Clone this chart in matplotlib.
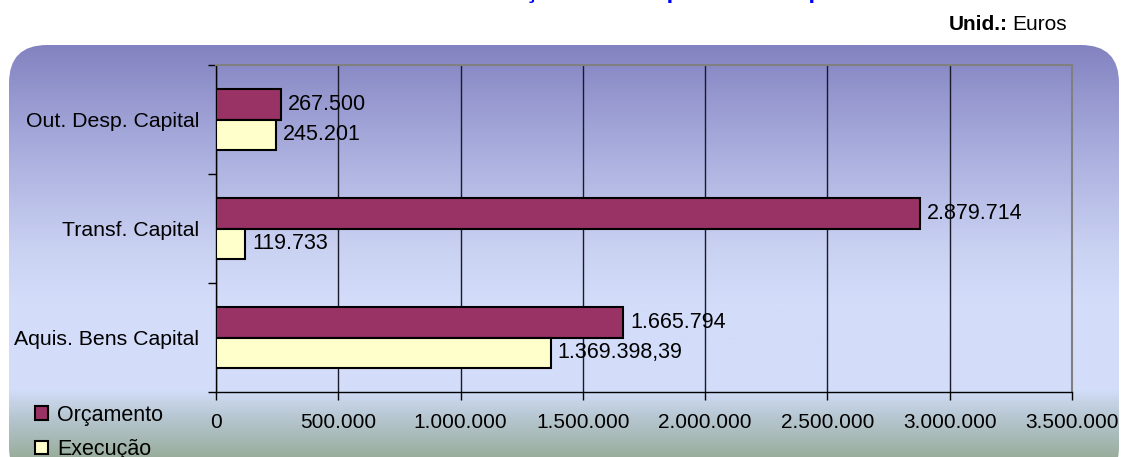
import matplotlib
matplotlib.use('Agg')
import matplotlib.pyplot as plt
import numpy as np
from matplotlib.colors import LinearSegmentedColormap
from matplotlib.patches import FancyBboxPatch

plt.rcParams['font.family'] = ['Liberation Sans', 'DejaVu Sans']

# data
categories = ['Aquis. Bens Capital', 'Transf. Capital', 'Out. Desp. Capital']
orcamento = [1665794, 2879714, 267500]
execucao = [1369398.39, 119733, 245201]
series_names = ['Orçamento', 'Execução']
xticks = [0, 500000, 1000000, 1500000, 2000000, 2500000, 3000000, 3500000]


def fmt_pt(v):
    # portuguese style: 1.234.567,89
    if float(v).is_integer():
        return f'{int(v):,}'.replace(',', '.')
    s = f'{v:,.2f}'
    return s.replace(',', 'X').replace('.', ',').replace('X', '.')


W, H = 1121, 457
fig = plt.figure(figsize=(W / 100, H / 100), dpi=100)

# rounded gradient background panel
bg = fig.add_axes([0, 0, 1, 1], zorder=-5)
bg.set_xlim(0, W)
bg.set_ylim(H, 0)
bg.axis('off')
stops = [(0.0, '#8383c1'), (0.25, '#a9addd'), (0.5, '#cbd3f3'), (0.62, '#d3dcf9'),
         (0.83, '#d3defa'), (0.9, '#b6c6d0'), (1.0, '#98ac9a')]
cmap = LinearSegmentedColormap.from_list('bg', stops)
grad = np.linspace(0, 1, 256).reshape(-1, 1)
im = bg.imshow(grad, cmap=cmap, aspect='auto', extent=[9, 1119, 460, 45], zorder=0)
panel = FancyBboxPatch((9, 45), 1110, 440, boxstyle='round,pad=0,rounding_size=38',
                       facecolor='none', edgecolor='none', transform=bg.transData)
bg.add_patch(panel)
im.set_clip_path(panel)

# title (cut off at the top of the image, as in the source)
fig.text(656 / W, 1 + 2 / H, 'Execução das Despesas de Capital', ha='center', va='baseline',
         fontsize=17.5, fontweight='bold', color='#0000ff')

unit = fig.text(1067 / W, 1 - 24 / H, 'Euros', ha='right', va='center', fontsize=15)
fig.canvas.draw()
ext = unit.get_window_extent()
fig.text((ext.x0 - 5) / W, 1 - 24 / H, 'Unid.:', ha='right', va='center', fontsize=15,
         fontweight='bold')

ax = fig.add_axes([216 / W, (H - 392) / H, (1072 - 216) / W, (392 - 65) / H])
ax.patch.set_alpha(0)

y = np.arange(len(categories))
h = 0.28
b1 = ax.barh(y + h / 2, orcamento, height=h, color='#993366', edgecolor='black',
             linewidth=1.5, label=series_names[0], zorder=3)
b2 = ax.barh(y - h / 2, execucao, height=h, color='#ffffcc', edgecolor='black',
             linewidth=1.5, label=series_names[1], zorder=3)

for bars, vals in ((b1, orcamento), (b2, execucao)):
    for rect, v in zip(bars, vals):
        ax.annotate(fmt_pt(v), (rect.get_width(), rect.get_y() + rect.get_height() / 2),
                    xytext=(5, 0), textcoords='offset points', va='center', ha='left',
                    fontsize=15.5, zorder=5)

ax.set_xlim(0, 3500000)
ax.set_ylim(-0.5, len(categories) - 0.5)
ax.set_xticks(xticks)
ax.set_xticklabels([fmt_pt(t) for t in xticks], fontsize=15)
ax.set_yticks(y)
ax.set_yticklabels(categories, fontsize=15.3)
ax.set_yticks(np.arange(-0.5, len(categories)), minor=True)
ax.tick_params(axis='y', which='major', length=0, pad=12)
ax.tick_params(axis='y', which='minor', length=6, width=1, color='black')
ax.tick_params(axis='x', length=6, width=1, pad=9, direction='out')

ax.grid(axis='x', color='#1a1a2a', linewidth=1, zorder=1)
ax.set_axisbelow(True)
for side in ('top', 'right'):
    ax.spines[side].set_color('#808080')
    ax.spines[side].set_linewidth(1.5)
for side in ('left', 'bottom'):
    ax.spines[side].set_color('black')
    ax.spines[side].set_linewidth(1)

leg = fig.legend(handles=[b1, b2], loc='upper left', bbox_to_anchor=(26 / W, 1 - 396 / H),
                 frameon=False, fontsize=15.5, handlelength=0.6, handleheight=0.6,
                 handletextpad=0.45, labelspacing=0.62, borderaxespad=0)

fig.savefig('out.png', dpi=100)
